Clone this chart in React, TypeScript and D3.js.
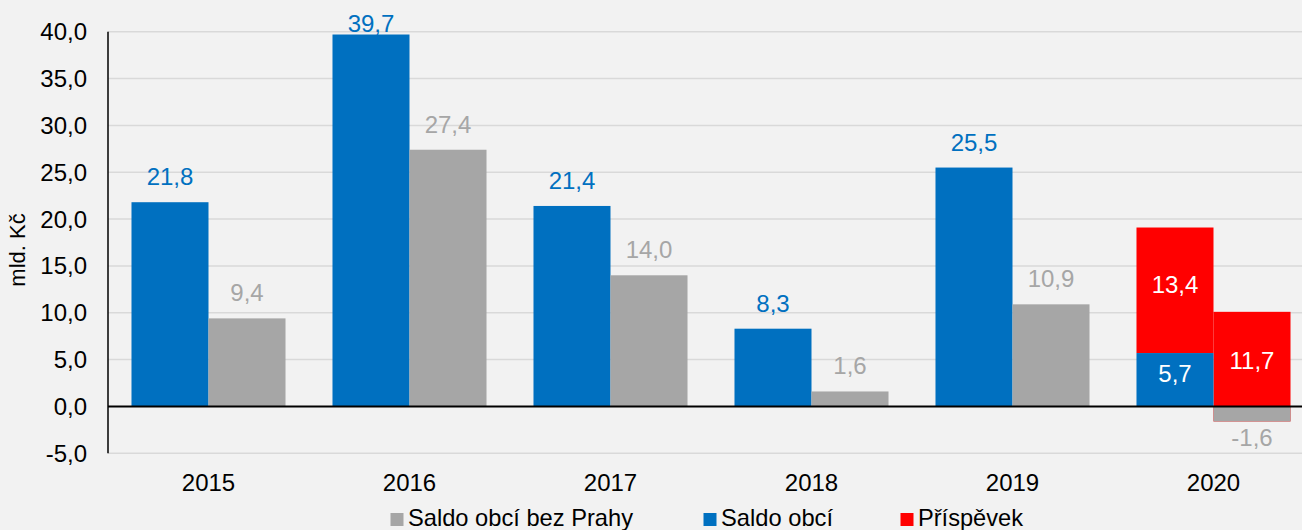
import React from 'react';
import * as d3 from 'd3';

// data
const years = ['2015', '2016', '2017', '2018', '2019', '2020'];
const saldoObci = [21.8, 39.7, 21.4, 8.3, 25.5, 5.7];
const saldoBezPrahy = [9.4, 27.4, 14.0, 1.6, 10.9, -1.6];
// příspěvek stacked on top of each series (2020 only)
const prispevekObci = [0, 0, 0, 0, 0, 13.4];
const prispevekBezPrahy = [0, 0, 0, 0, 0, 11.7];
const yTicks = [-5, 0, 5, 10, 15, 20, 25, 30, 35, 40];
const legendItems = [
    {name: 'Saldo obcí bez Prahy', color: '#A6A6A6'},
    {name: 'Saldo obcí', color: '#0070C0'},
    {name: 'Příspěvek', color: '#FF0000'},
];

const BLUE = '#0070C0';
const GRAY = '#A6A6A6';
const RED = '#FF0000';
const FONT = '"Liberation Sans", Arial, sans-serif';

const fmt = (v: number) => v.toFixed(1).replace('.', ',');

export default function App() {
    const width = 1302;
    const height = 530;

    const x0 = d3.scaleBand<string>().domain(years).range([108, 1314]).paddingInner(0).paddingOuter(0);
    const x1 = d3.scaleBand<string>().domain(['obci', 'bezPrahy']).range([0, x0.bandwidth()]).paddingInner(0).paddingOuter(0.305);
    const y = d3.scaleLinear().domain([-5, 40]).range([453.3, 31.7]);

    const series = [
        {key: 'obci', values: saldoObci, extra: prispevekObci, color: BLUE},
        {key: 'bezPrahy', values: saldoBezPrahy, extra: prispevekBezPrahy, color: GRAY},
    ];

    const redBars: any[] = [];
    const mainBars: any[] = [];
    const labels: any[] = [];

    series.forEach((s) => {
        s.values.forEach((v, i) => {
            const bx = (x0(years[i]) as number) + (x1(s.key) as number);
            const bw = x1.bandwidth();
            const cx = bx + bw / 2;
            const top = y(Math.max(0, v));
            const bot = y(Math.min(0, v));
            mainBars.push(<rect key={`b-${s.key}-${i}`} x={bx} y={top} width={bw} height={bot - top} fill={s.color} />);
            const ex = s.extra[i];
            if (ex) {
                // stacked red segment starts at the series value
                const rTop = y(v + ex);
                const rBot = y(v);
                redBars.push(<rect key={`r-${s.key}-${i}`} x={bx} y={rTop} width={bw} height={rBot - rTop} fill={RED} />);
                labels.push(<text key={`rl-${s.key}-${i}`} x={cx} y={(rTop + rBot) / 2 + 2.5} fill="#fff" textAnchor="middle">{fmt(ex)}</text>);
                if (v > 0) {
                    labels.push(<text key={`l-${s.key}-${i}`} x={cx} y={(top + bot) / 2 + 2.5} fill="#fff" textAnchor="middle">{fmt(v)}</text>);
                } else {
                    labels.push(<text key={`l-${s.key}-${i}`} x={cx} y={bot + 25} fill={s.color} textAnchor="middle">{fmt(v)}</text>);
                }
            } else {
                labels.push(<text key={`l-${s.key}-${i}`} x={cx} y={Math.max(32.3, top - 17)} fill={s.color} textAnchor="middle">{fmt(v)}</text>);
            }
        });
    });

    // legend positions
    const legendX = [390.5, 703.5, 900.5];
    const legendLen = [225, 112, 105];

    return (
        <svg width={width} height={height} style={{position: 'absolute', left: 0, top: 0}} fontFamily={FONT}>
            <rect x={0} y={0} width={width} height={height} fill="#F2F2F2" />
            {/* gridlines */}
            {yTicks.filter((t) => t !== 0).map((t) => (
                <line key={`g${t}`} x1={108} x2={width} y1={y(t)} y2={y(t)} stroke="#D9D9D9" strokeWidth={1.5} />
            ))}
            {/* y tick labels */}
            {yTicks.map((t) => (
                <text key={`yt${t}`} x={87} y={y(t) + 8.5} textAnchor="end" fontSize={24} fill="#000">{fmt(t)}</text>
            ))}
            {/* bars */}
            {redBars}
            {mainBars}
            {/* axes */}
            <line x1={108} x2={width} y1={y(0)} y2={y(0)} stroke="#000" strokeWidth={2} />
            <line x1={108} x2={108} y1={y(40)} y2={y(-5)} stroke="#000" strokeWidth={1.5} />
            {/* data labels */}
            <g fontSize={24}>{labels}</g>
            {/* x labels */}
            {years.map((yr) => (
                <text key={`x${yr}`} x={(x0(yr) as number) + x0.bandwidth() / 2} y={491} textAnchor="middle" fontSize={24} fill="#000">{yr}</text>
            ))}
            {/* y title */}
            <text transform="translate(25,250) rotate(-90)" textAnchor="middle" fontSize={22} fill="#000">mld. Kč</text>
            {/* legend */}
            {legendItems.map((d, i) => (
                <g key={d.name}>
                    <rect x={legendX[i]} y={513} width={13} height={13} fill={d.color} />
                    <text x={legendX[i] + 17.5} y={526} fontSize={24} fill="#000" textLength={legendLen[i]} lengthAdjust="spacingAndGlyphs">{d.name}</text>
                </g>
            ))}
        </svg>
    );
}
